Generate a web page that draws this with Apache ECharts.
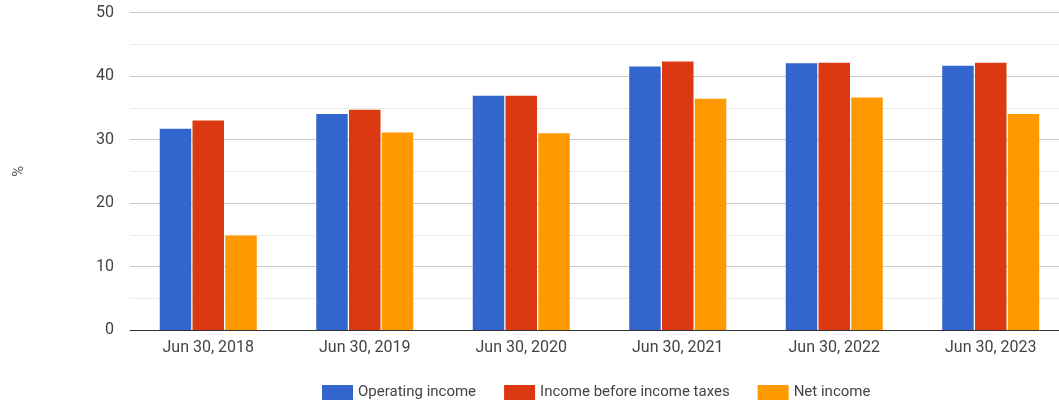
<!DOCTYPE html>
<html>
<head>
<meta charset="utf-8">
<script src="https://cdn.jsdelivr.net/npm/echarts@6/dist/echarts.min.js"></script>
<style>
html,body{margin:0;padding:0;background:#fff;}
#chart{width:1059px;height:405px;}
</style>
</head>
<body>
<div id="chart"></div>
<script>
var categories = ['Jun 30, 2018','Jun 30, 2019','Jun 30, 2020','Jun 30, 2021','Jun 30, 2022','Jun 30, 2023'];
var operatingIncome = [31.7, 34.0, 36.9, 41.5, 42.0, 41.6];
var incomeBeforeTaxes = [33.0, 34.7, 36.9, 42.3, 42.1, 42.1];
var netIncome = [14.9, 31.1, 31.0, 36.4, 36.6, 34.0];
var seriesNames = ['Operating income','Income before income taxes','Net income'];
var colors = ['#3366cc','#dc3912','#ff9900'];

var chart = echarts.init(document.getElementById('chart'));
var font = 'Roboto, Arial, sans-serif';
function bar(name, data, color){
  return {name:name, type:'bar', data:data, itemStyle:{color:color},
    barGap:'4%', barCategoryGap:'38%', animation:false};
}
chart.setOption({
  animation:false,
  textStyle:{fontFamily:font},
  grid:{left:130, width:939, top:12.5, bottom:75, containLabel:false, outerBoundsMode:'none'},
  legend:{
    data:seriesNames, left:317, top:380, itemWidth:31, itemHeight:15, itemGap:28, itemTextGap:6,
    icon:'rect',
    textStyle:{fontSize:15, color:'#444', fontFamily:font}
  },
  xAxis:{
    type:'category', data:categories,
    axisTick:{show:false},
    axisLine:{lineStyle:{color:'#333', width:1}},
    axisLabel:{fontSize:16, color:'#444', margin:10, fontFamily:font}
  },
  yAxis:{
    type:'value', min:0, max:50, interval:5,
    name:'%', nameLocation:'middle', nameRotate:90, nameGap:103,
    nameTextStyle:{fontSize:15, color:'#555', fontFamily:font},
    axisLine:{show:false}, axisTick:{show:false},
    axisLabel:{fontSize:16, color:'#444', margin:16, fontFamily:font,
      formatter:function(v){return v % 10 === 0 ? String(v) : '';}},
    splitLine:{lineStyle:{color:['#cccccc','#ebebeb'], width:1}}
  },
  series:[
    bar(seriesNames[0], operatingIncome, colors[0]),
    bar(seriesNames[1], incomeBeforeTaxes, colors[1]),
    bar(seriesNames[2], netIncome, colors[2])
  ]
});
</script>
</body>
</html>
